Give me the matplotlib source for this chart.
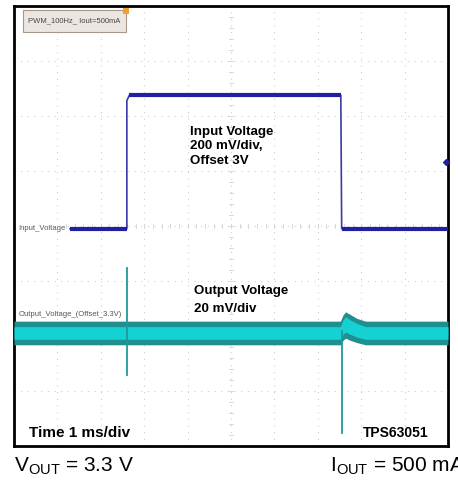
import matplotlib
matplotlib.use('Agg')
import matplotlib.pyplot as plt
from matplotlib.patches import Rectangle
import numpy as np

plt.rcParams['font.family'] = ['Liberation Sans', 'DejaVu Sans']
plt.rcParams['mathtext.fontset'] = 'custom'
plt.rcParams['mathtext.rm'] = 'Liberation Sans'

# ---- data (time in ms, amplitude in scope divisions) ----
in_t = [1.29, 2.60, 2.60, 2.66, 7.53, 7.55, 10.0]
in_v = [-0.05, -0.05, 2.28, 2.38, 2.38, -0.05, -0.05]

out_t = [0.0, 7.52, 7.58, 7.64, 7.75, 7.90, 8.10, 10.0]
out_hi = [-1.73, -1.73, -1.62, -1.56, -1.61, -1.68, -1.73, -1.73]
out_lo = [-2.16, -2.16, -2.08, -2.04, -2.08, -2.12, -2.16, -2.16]
out_in_hi = [-1.83, -1.83, -1.71, -1.65, -1.71, -1.77, -1.83, -1.83]
out_in_lo = [-2.06, -2.06, -1.97, -1.93, -1.97, -2.02, -2.06, -2.06]

spike1_t = [2.60, 2.60]
spike1_v = [-0.76, -2.71]
spike2_t = [7.56, 7.56]
spike2_v = [-1.90, -3.76]

marker_t = [9.95]
marker_v = [1.16]

W, H = 458, 480
fig = plt.figure(figsize=(W / 100, H / 100), dpi=100)
ax = fig.add_axes([14 / W, (480 - 446) / H, 434 / W, 440 / H])
ax.set_xlim(0, 10)
ax.set_ylim(-4, 4)
ax.set_xticks([])
ax.set_yticks([])
for s in ax.spines.values():
    s.set_linewidth(2)
    s.set_color('black')

# scope grid
grid_c = '#cfcfcf'
for x in range(1, 10):
    ax.axvline(x, color=grid_c, lw=0.8, ls=(0, (1, 5)), zorder=0)
for y in range(-3, 4):
    ax.axhline(y, color=grid_c, lw=0.8, ls=(0, (1, 5)), zorder=0)
# center ticks
for xm in np.arange(0, 10.01, 0.2):
    ax.plot([xm, xm], [-0.04, 0.04], color='#d2d2d2', lw=0.6, zorder=0)
for ym in np.arange(-4, 4.01, 0.2):
    ax.plot([4.96, 5.04], [ym, ym], color='#d2d2d2', lw=0.6, zorder=0)

# input trace
blue = '#2020a2'
ax.plot(in_t, in_v, color='#3a3aa8', lw=1.2, zorder=3)
for i in range(len(in_t) - 1):
    if in_v[i] == in_v[i + 1]:
        ax.plot(in_t[i:i + 2], in_v[i:i + 2], color=blue, lw=3.0,
                solid_capstyle='butt', zorder=4)
ax.plot(marker_t, marker_v, marker='D', ms=3, color=blue, zorder=4)

# output trace
ax.fill_between(out_t, out_lo, out_hi, color='#1f8f8f', lw=0, zorder=3)
ax.fill_between(out_t, out_in_lo, out_in_hi, color='#14d2d2', lw=0, zorder=3)
ax.plot(spike1_t, spike1_v, color='#1e9a9a', lw=1.3, zorder=4)
ax.plot(spike2_t, spike2_v, color='#1e9a9a', lw=1.3, zorder=4)

# scope labels
ax.text(0.1, -0.04, 'Input_Voltage', fontsize=5.5, color='#555555',
        va='center', ha='left', zorder=5,
        bbox=dict(facecolor='white', edgecolor='none', pad=0.5))
ax.text(0.1, -1.6, 'Output_Voltage_(Offset_3.3V)', fontsize=5.5,
        color='#555555', va='center', ha='left', zorder=5)

# info box
ax.add_patch(Rectangle((0.021, 0.941), 0.237, 0.05, transform=ax.transAxes,
                       facecolor='#ece6e2', edgecolor='#a89888', lw=0.8,
                       zorder=5))
ax.add_patch(Rectangle((0.252, 0.982), 0.012, 0.014, transform=ax.transAxes,
                       facecolor='#f0a030', edgecolor='none', zorder=6))
ax.text(0.139, 0.966, 'PWM_100Hz_ Iout=500mA', transform=ax.transAxes,
        fontsize=5.5, color='#444444', ha='center', va='center', zorder=6)

# annotations
bold = dict(fontsize=9.6, fontweight='bold', color='black', ha='left',
            va='center', zorder=6)
ax.text(4.06, 1.71, 'Input Voltage', **bold)
ax.text(4.06, 1.45, '200 mV/div,', **bold)
ax.text(4.06, 1.19, 'Offset 3V', **bold)
ax.text(4.15, -1.18, 'Output Voltage', **bold)
ax.text(4.15, -1.50, '20 mV/div', **bold)
ax.text(0.35, -3.76, 'Time 1 ms/div', fontsize=11, fontweight='bold',
        ha='left', va='center', zorder=6)
ax.text(9.54, -3.76, 'TPS63051', fontsize=10, fontweight='bold',
        ha='right', va='center', zorder=6)

fig.text(14 / W, (480 - 466) / H, r'V$_{\mathrm{OUT}}$ = 3.3 V', fontsize=15,
         ha='left', va='center')
fig.text(330 / W, (480 - 466) / H, r'I$_{\mathrm{OUT}}$ = 500 mA', fontsize=15,
         ha='left', va='center')

fig.savefig('out.png', dpi=100)
